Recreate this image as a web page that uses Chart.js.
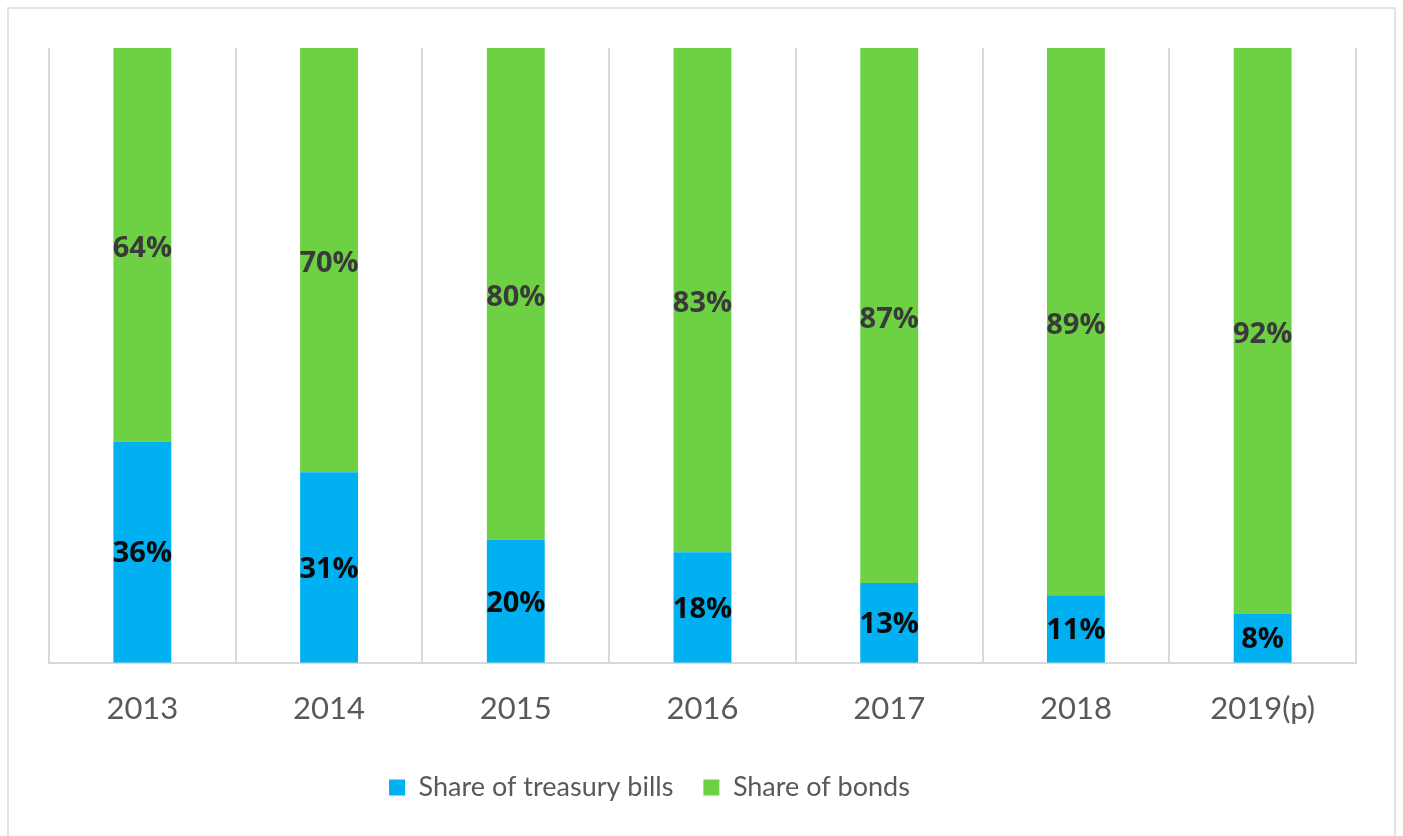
<!DOCTYPE html>
<html>
<head>
<meta charset="utf-8">
<script src="https://cdn.jsdelivr.net/npm/chart.js@4/dist/chart.umd.min.js"></script>
<style>
  html, body { margin: 0; padding: 0; background: #fff; overflow: hidden; }
  #frame {
    position: absolute; left: 7px; top: 7px; width: 1389px; height: 840px;
    border: 2px solid #e3e3e3; box-sizing: border-box;
  }
  #wrap { position: absolute; left: 0; top: 0; width: 1403px; height: 836px; }
</style>
</head>
<body>
<div id="frame"></div>
<div id="wrap"><canvas id="shareChart"></canvas></div>
<script>
const years = ['2013', '2014', '2015', '2016', '2017', '2018', '2019(p)']
const billsShare = [36, 31, 20, 18, 13, 11, 8]
const bondsShare = [64, 70, 80, 83, 87, 89, 92]

// writes each segment's value in the middle of its bar piece
const segmentLabels = {
  id: 'segmentLabels',
  afterDatasetsDraw (chart) {
    const ctx = chart.ctx
    const area = chart.chartArea
    ctx.save()
    ctx.font = 'bold 29px "Open Sans", sans-serif'
    ctx.textAlign = 'center'
    ctx.textBaseline = 'middle'
    chart.data.datasets.forEach((ds, i) => {
      const meta = chart.getDatasetMeta(i)
      ctx.fillStyle = ds.labelColor
      meta.data.forEach((bar, j) => {
        const top = Math.max(bar.y, area.top)
        ctx.fillText(ds.data[j] + '%', bar.x, (top + bar.base) / 2 + ds.labelShift)
      })
    })
    ctx.restore()
  }
}

// the legend sits a little left of the plot centre
const legendNudge = {
  id: 'legendNudge',
  afterLayout (chart) {
    chart.legend.left -= 53
    chart.legend.right -= 53
  }
}

new Chart(document.getElementById('shareChart').getContext('2d'), {
  type: 'bar',
  data: {
    labels: years,
    datasets: [
      {
        label: 'Share of treasury bills',
        data: billsShare,
        backgroundColor: '#00b0f0',
        labelColor: '#0a0a0a',
        labelShift: 2
      },
      {
        label: 'Share of bonds',
        data: bondsShare,
        backgroundColor: '#6dd143',
        labelColor: '#3a3a3a',
        labelShift: 4
      }
    ]
  },
  options: {
    responsive: true,
    maintainAspectRatio: false,
    animation: false,
    layout: { padding: { left: 49, right: 47, top: 48, bottom: 25 } },
    datasets: { bar: { categoryPercentage: 1, barPercentage: 0.31 } },
    plugins: {
      legend: {
        position: 'bottom',
        labels: {
          boxWidth: 16,
          boxHeight: 16,
          padding: 30,
          color: '#595959',
          font: { family: 'Lato, sans-serif', size: 27 }
        }
      },
      tooltip: { enabled: false }
    },
    scales: {
      x: {
        stacked: true,
        grid: { color: '#d9d9d9', lineWidth: 2, drawTicks: false, offset: true },
        border: { color: '#d9d9d9', width: 2 },
        ticks: {
          padding: 28,
          color: '#595959',
          font: { family: 'Lato, sans-serif', size: 31 }
        },
        afterFit (scale) { scale.height -= 12 }
      },
      y: {
        stacked: true,
        display: false,
        min: 0,
        max: 100
      }
    }
  },
  plugins: [segmentLabels, legendNudge]
})
</script>
</body>
</html>
